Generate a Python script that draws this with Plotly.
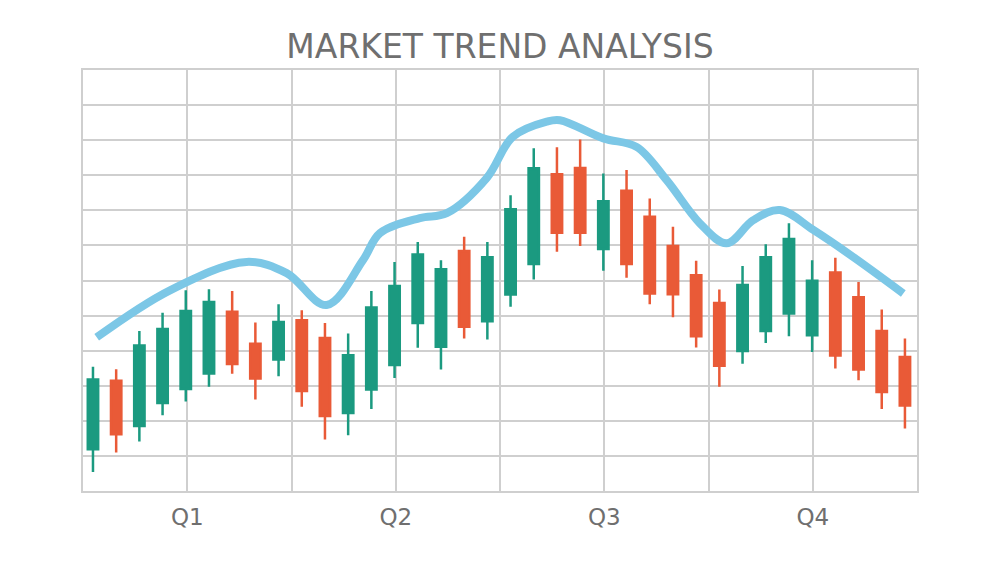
import plotly.graph_objects as go

# candle index positions (36 sessions across the year)
sessions = list(range(36))

open_px = [11.9, 31.4, 18.5, 25.1, 29.1, 33.5, 51.1, 42.0, 37.5, 48.7, 43.6, 22.2,
           28.9, 35.9, 47.9, 41.1, 68.4, 48.4, 56.0, 64.7, 90.3, 92.1, 69.0, 85.6,
           78.2, 69.8, 61.5, 53.6, 39.9, 45.6, 50.6, 44.4, 62.3, 55.2, 45.6, 38.2]
high_px = [35.4, 34.7, 45.6, 50.8, 57.2, 57.5, 57.0, 48.0, 53.2, 51.5, 47.9, 44.9,
           57.0, 65.3, 71.0, 65.8, 72.5, 71.0, 84.3, 97.7, 98.0, 100.2, 90.5, 91.5,
           83.4, 75.3, 65.6, 57.4, 64.1, 70.3, 76.3, 65.8, 66.5, 59.6, 51.7, 43.5]
low_px = [5.4, 11.0, 14.1, 21.6, 25.5, 29.7, 33.4, 26.1, 32.7, 24.0, 14.7, 15.9,
          23.4, 32.2, 40.8, 34.6, 43.5, 43.2, 52.5, 60.3, 68.2, 69.8, 62.8, 60.8,
          53.2, 49.5, 40.9, 29.7, 36.3, 42.2, 44.1, 39.6, 34.9, 31.6, 23.4, 17.8]
close_px = [31.8, 16.2, 41.5, 46.2, 51.3, 53.9, 36.2, 32.1, 48.2, 28.5, 21.4, 38.7,
            52.3, 58.4, 67.4, 63.2, 46.8, 66.6, 80.3, 92.0, 73.6, 73.6, 82.6, 64.7,
            56.3, 56.1, 44.1, 35.7, 58.7, 66.6, 71.8, 59.9, 38.6, 34.6, 28.2, 24.4]

# smoothed trend line drawn above the candles
trend_x = [0.16, 3.32, 6.62, 8.35, 10.07, 11.64, 12.37, 14.09, 15.25, 16.97, 18.10,
           19.56, 20.13, 22.0, 23.43, 24.73, 26.16, 27.31, 28.46, 29.61, 31.05,
           32.77, 34.93]
trend_y = [43.8, 57.2, 65.3, 62.1, 53.0, 65.8, 73.5, 77.8, 79.2, 89.2, 101.0,
           105.3, 105.7, 100.5, 98.1, 88.6, 76.3, 70.6, 77.2, 80.1, 74.4, 66.7, 56.3]

quarter_labels = ["", "Q1", "", "Q2", "", "Q3", "", "Q4", ""]

GREEN = "#1b9a80"
RED = "#e95a37"
BLUE = "#7cc7e6"
GRID = "#cfcfcf"
TEXT = "#6f6f6f"

x_lo, x_hi = -0.43, 35.52
step = (x_hi - x_lo) / 8
grid_x = [x_lo + k * step for k in range(9)]

fig = go.Figure()

fig.add_trace(go.Candlestick(
    x=sessions, open=open_px, high=high_px, low=low_px, close=close_px,
    increasing=dict(line=dict(color=GREEN, width=2.5), fillcolor=GREEN),
    decreasing=dict(line=dict(color=RED, width=2.5), fillcolor=RED),
    whiskerwidth=0,
    showlegend=False,
))

fig.add_trace(go.Scatter(
    x=trend_x, y=trend_y, mode="lines",
    line=dict(color=BLUE, width=8, shape="spline", smoothing=1.0),
    showlegend=False, hoverinfo="skip",
))

# page body has an 8px default margin, so the figure is sized to sit inside it
fig.update_layout(
    width=984, height=547,
    margin=dict(l=75, r=75, t=62, b=64),
    paper_bgcolor="white", plot_bgcolor="white",
    title=dict(text="MARKET TREND ANALYSIS", x=0.5, xanchor="center",
               y=1 - 38 / 547, yanchor="middle",
               font=dict(family="DejaVu Sans", size=33, color=TEXT)),
    font=dict(family="DejaVu Sans", color=TEXT),
    boxgap=0.36,
)

fig.update_xaxes(
    range=[x_lo, x_hi], tickmode="array", tickvals=grid_x, ticktext=quarter_labels,
    showgrid=True, gridcolor=GRID, gridwidth=1.5,
    showline=True, linecolor=GRID, linewidth=2, mirror=True,
    ticks="", tickfont=dict(size=23, color=TEXT), ticklabelstandoff=4,
    zeroline=False, rangeslider=dict(visible=False),
)
fig.update_yaxes(
    range=[0, 120], dtick=10, showticklabels=False,
    showgrid=True, gridcolor=GRID, gridwidth=1.5,
    showline=True, linecolor=GRID, linewidth=2, mirror=True,
    ticks="", zeroline=False,
)

fig.write_html("out.html")
